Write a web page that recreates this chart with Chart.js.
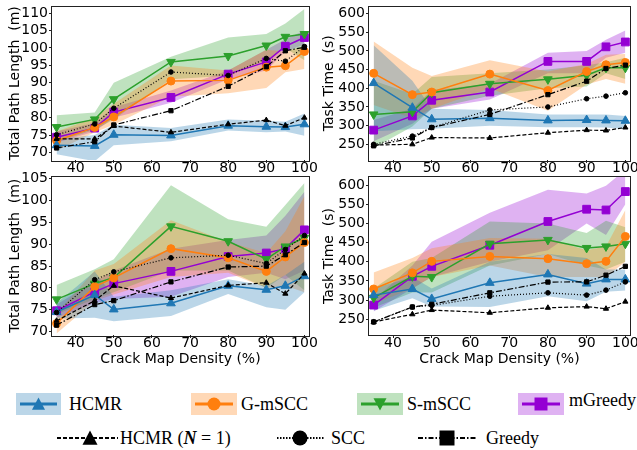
<!DOCTYPE html>
<html><head><meta charset="utf-8">
<script src="https://cdn.jsdelivr.net/npm/chart.js@4.4.1/dist/chart.umd.min.js"></script>
<style>
html,body{margin:0;padding:0;background:#fff;}
#wrap{position:relative;width:637px;height:450px;overflow:hidden;background:#fff;}
#wrap canvas{position:absolute;}
.lt{position:absolute;font-family:"Liberation Serif","Times New Roman",serif;font-size:18px;line-height:18px;color:#000;white-space:nowrap;}
</style></head><body>
<div id="wrap">
 <canvas id="c1" width="318" height="178" style="left:0;top:0;width:318px;height:178px"></canvas>
 <canvas id="c2" width="319" height="178" style="left:318px;top:0;width:319px;height:178px"></canvas>
 <canvas id="c3" width="318" height="200" style="left:0;top:170px;width:318px;height:200px"></canvas>
 <canvas id="c4" width="319" height="200" style="left:318px;top:170px;width:319px;height:200px"></canvas>
</div>
<script>
// ---------- data ----------
const densities = [35, 45, 50, 65, 80, 90, 95, 100];
const xTicks = [40, 50, 60, 70, 80, 90, 100];
const lengthTicksTop = [70, 75, 80, 85, 90, 95, 100, 105, 110];
const lengthTicksBottom = [70, 75, 80, 85, 90, 95, 100, 105];
const timeTicks = [250, 300, 350, 400, 450, 500, 550, 600];

// Panel 1: total path length (top)
const hcmr1 = [72.1, 71.9, 75.1, 74.9, 77.7, 77.4, 77.3, 78.1];
const hcmr1Lo = [69.5, 67.5, 72.1, 73.2, 76.3, 75.8, 76.0, 74.8];
const hcmr1Hi = [73.8, 75.0, 78.0, 77.0, 79.5, 79.1, 78.8, 81.2];
const gmscc1 = [73.4, 77.2, 80.2, 90.5, 90.7, 94.5, 94.9, 99.0];
const gmscc1Lo = [70.5, 75.8, 78.0, 86.0, 87.0, 88.5, 93.0, 94.0];
const gmscc1Hi = [76.0, 80.0, 84.0, 95.0, 93.5, 99.5, 99.0, 100.5];
const smscc1 = [77.3, 79.5, 85.3, 96.0, 97.7, 100.7, 103.2, 104.0];
const smscc1Lo = [73.0, 76.5, 79.5, 91.0, 92.0, 96.5, 100.0, 96.5];
const smscc1Hi = [80.7, 81.5, 90.0, 97.5, 103.0, 104.0, 107.0, 111.2];
const mgreedy1 = [74.4, 77.0, 81.6, 85.8, 92.5, 96.0, 100.5, 103.0];
const mgreedy1Lo = [72.8, 76.0, 80.0, 84.3, 91.0, 93.5, 99.0, 101.0];
const mgreedy1Hi = [76.0, 78.5, 83.0, 87.8, 93.5, 99.5, 102.5, 105.0];
const hcmrN1_1 = [73.9, 73.9, 77.6, 75.8, 78.1, 79.3, 77.7, 80.0];
const scc1 = [75.1, 78.2, 82.7, 93.1, 92.1, 97.0, 96.2, 100.4];
const greedy1 = [71.3, 73.1, 77.9, 82.0, 89.0, 94.6, 99.2, 100.2];

// Panel 2: task time (top)
const hcmr2 = [414, 348, 317, 320, 314, 315, 314, 313];
const hcmr2Lo = [285, 290, 292, 300, 296, 296, 295, 290];
const hcmr2Hi = [515, 420, 345, 342, 330, 330, 330, 326];
const gmscc2 = [440, 383, 390, 438, 394, 445, 463, 469];
const gmscc2Lo = [355, 320, 345, 400, 340, 410, 425, 412];
const gmscc2Hi = [525, 455, 433, 475, 445, 465, 490, 492];
const smscc2 = [330, 337, 388, 412, 424, 435, 455, 455];
const smscc2Lo = [240, 298, 345, 380, 400, 405, 440, 425];
const smscc2Hi = [420, 385, 430, 440, 450, 462, 470, 482];
const mgreedy2 = [288, 326, 368, 390, 472, 472, 511, 524];
const mgreedy2Lo = [258, 305, 345, 370, 440, 440, 482, 495];
const mgreedy2Hi = [315, 345, 395, 412, 495, 500, 530, 555];
const hcmrN1_2 = [248, 250, 268, 267, 281, 288, 287, 295];
const scc2 = [250, 272, 295, 342, 350, 372, 379, 388];
const greedy2 = [246, 267, 295, 330, 383, 419, 453, 462];

// Panel 3: total path length (bottom)
const hcmr3 = [74.5, 78.4, 75.1, 76.5, 80.5, 79.6, 80.5, 82.7];
const hcmr3Lo = [73.0, 73.2, 72.4, 73.6, 78.6, 75.6, 75.0, 79.0];
const hcmr3Hi = [76.5, 83.8, 78.0, 79.5, 82.0, 80.5, 83.0, 86.0];
const gmscc3 = [71.9, 80.3, 82.3, 89.0, 86.9, 83.8, 87.1, 90.4];
const gmscc3Lo = [69.6, 77.0, 78.5, 82.5, 83.5, 80.0, 80.5, 79.0];
const gmscc3Hi = [74.2, 84.0, 85.5, 95.5, 90.5, 88.0, 93.0, 101.0];
const smscc3 = [77.4, 81.0, 82.4, 94.1, 90.7, 86.6, 89.5, 91.5];
const smscc3Lo = [74.0, 77.5, 79.0, 84.0, 84.0, 80.0, 83.0, 79.5];
const smscc3Hi = [80.7, 84.3, 86.6, 103.5, 95.7, 94.0, 99.0, 104.0];
const mgreedy3 = [74.8, 79.1, 81.0, 83.8, 87.2, 88.0, 89.0, 93.3];
const mgreedy3Lo = [73.2, 76.5, 77.5, 78.0, 82.5, 83.5, 82.0, 84.0];
const mgreedy3Hi = [76.2, 81.5, 84.0, 89.0, 91.0, 92.0, 96.5, 102.0];
const hcmrN1_3 = [72.5, 77.1, 80.5, 77.7, 80.6, 81.2, 78.7, 83.3];
const scc3 = [74.4, 81.9, 83.7, 86.9, 87.5, 85.6, 88.8, 92.0];
const greedy3 = [71.5, 76.2, 77.1, 81.4, 84.8, 85.0, 87.6, 90.4];

// Panel 4: task time (bottom)
const hcmr4 = [313, 329, 303, 345, 367, 343, 354, 354];
const hcmr4Lo = [272, 305, 283, 282, 310, 297, 322, 325];
const hcmr4Hi = [330, 360, 330, 400, 420, 410, 380, 380];
const gmscc4 = [329, 371, 401, 414, 408, 395, 401, 466];
const gmscc4Lo = [290, 330, 360, 390, 360, 360, 360, 400];
const gmscc4Hi = [372, 410, 435, 462, 460, 430, 440, 535];
const smscc4 = [306, 362, 360, 447, 457, 436, 440, 447];
const smscc4Lo = [280, 320, 320, 390, 420, 390, 380, 400];
const smscc4Hi = [330, 400, 410, 505, 500, 475, 507, 490];
const mgreedy4 = [287, 362, 388, 443, 505, 537, 535, 583];
const mgreedy4Lo = [270, 330, 360, 400, 430, 500, 470, 550];
const mgreedy4Hi = [300, 390, 452, 528, 588, 578, 598, 640];
const hcmrN1_4 = [243, 263, 274, 267, 280, 283, 277.5, 296];
const scc4 = [243, 282, 286, 310, 319, 313, 326, 347.5];
const greedy4 = [243, 282, 289, 319, 347, 347.5, 365, 388];

// ---------- styles ----------
const COL = {hcmr:'#1f77b4', gmscc:'#ff7f0e', smscc:'#2ca02c', mgreedy:'#9400d3'};
const BAND = {hcmr:'rgba(31,119,180,0.3)', gmscc:'rgba(255,127,14,0.3)', smscc:'rgba(44,160,44,0.3)', mgreedy:'rgba(148,0,211,0.3)'};
const TICK_FONT = {family:'DejaVu Sans', size:14};

function pts(vals){ return densities.map((x,i)=>({x:x, y:vals[i]})); }
function band(lo, hi, col){
  return [
    {data:pts(lo), borderWidth:0, borderColor:'rgba(0,0,0,0)', pointRadius:0, fill:false, order:10, tension:0},
    {data:pts(hi), borderWidth:0, borderColor:'rgba(0,0,0,0)', pointRadius:0, fill:'-1', backgroundColor:col, order:10, tension:0}
  ];
}
function colLine(vals, col, style, r, rot){
  return {data:pts(vals), borderColor:col, backgroundColor:col, borderWidth:1.5, fill:false, tension:0,
    pointStyle:style, pointRadius:r, pointRotation:rot||0, pointBackgroundColor:col, pointBorderColor:col, pointBorderWidth:1, order:2};
}
function blkLine(vals, style, r, dash){
  return {data:pts(vals), borderColor:'#000', backgroundColor:'#000', borderWidth:1.2, borderDash:dash, fill:false, tension:0,
    pointStyle:style, pointRadius:r, pointBackgroundColor:'#000', pointBorderColor:'#000', pointBorderWidth:1, order:1};
}
function datasetsFor(s){
  return [
    ...band(s.hLo, s.hHi, BAND.hcmr),
    ...band(s.gLo, s.gHi, BAND.gmscc),
    ...band(s.sLo, s.sHi, BAND.smscc),
    ...band(s.mLo, s.mHi, BAND.mgreedy),
    colLine(s.h, COL.hcmr, 'triangle', 5),
    colLine(s.g, COL.gmscc, 'circle', 4),
    colLine(s.s, COL.smscc, 'triangle', 5, 180),
    colLine(s.m, COL.mgreedy, 'rect', 5.5),
    blkLine(s.n1, 'triangle', 3, [4,2]),
    blkLine(s.scc, 'circle', 2.3, [1,2]),
    blkLine(s.gr, 'rect', 3, [6,2,1.5,2])
  ];
}

const framePlugin = {
  id:'frame',
  afterDatasetsDraw(chart){
    const {ctx, chartArea:a} = chart;
    ctx.save();
    ctx.strokeStyle = '#222'; ctx.lineWidth = 1;
    ctx.strokeRect(Math.round(a.left)-0.5, Math.round(a.top)-0.5, Math.round(a.right-a.left)+1, Math.round(a.bottom-a.top)+1);
    ctx.restore();
  }
};

function makeChart(id, p){
  new Chart(document.getElementById(id), {
    type:'line',
    data:{datasets: datasetsFor(p.series)},
    plugins:[framePlugin],
    options:{
      responsive:false, animation:false, devicePixelRatio:1, events:[],
      layout:{padding:p.pad},
      plugins:{legend:{display:false}, tooltip:{enabled:false}},
      scales:{
        x:{type:'linear', min:33.8, max:101.2,
          afterBuildTicks(s){ s.ticks = xTicks.map(v=>({value:v})); },
          afterFit(s){ s.height = p.xh; s.paddingLeft = 0; s.paddingRight = 0; },
          ticks:{font:TICK_FONT, color:'#000', padding:-3, maxRotation:0, autoSkip:false},
          grid:{drawOnChartArea:false, drawTicks:true, tickLength:3, color:'#222'},
          border:{display:false},
          title:{display:!!p.xTitle, text:p.xTitle||'', font:TICK_FONT, color:'#000', padding:{top:0,bottom:2.6}}
        },
        y:{type:'linear', min:p.ymin, max:p.ymax,
          afterBuildTicks(s){ s.ticks = p.yTicks.map(v=>({value:v})); },
          afterFit(s){ s.width = p.yw; s.paddingTop = 0; s.paddingBottom = 0; },
          ticks:{font:TICK_FONT, color:'#000', padding:1, autoSkip:false},
          grid:{drawOnChartArea:false, drawTicks:true, tickLength:3, color:'#222'},
          border:{display:false},
          title:{display:true, text:p.yTitle, font:TICK_FONT, color:'#000', padding:{top:p.ytp, bottom:0}}
        }
      }
    }
  });
}

makeChart('c1', {series:{h:hcmr1,hLo:hcmr1Lo,hHi:hcmr1Hi,g:gmscc1,gLo:gmscc1Lo,gHi:gmscc1Hi,s:smscc1,sLo:smscc1Lo,sHi:smscc1Hi,m:mgreedy1,mLo:mgreedy1Lo,mHi:mgreedy1Hi,n1:hcmrN1_1,scc:scc1,gr:greedy1},
  pad:{left:0,right:9,top:3,bottom:0}, yw:52, xh:18, ymin:67.85, ymax:111.9, yTicks:lengthTicksTop, yTitle:'Total Path Length  (m)', ytp:6.5});
makeChart('c2', {series:{h:hcmr2,hLo:hcmr2Lo,hHi:hcmr2Hi,g:gmscc2,gLo:gmscc2Lo,gHi:gmscc2Hi,s:smscc2,sLo:smscc2Lo,sHi:smscc2Hi,m:mgreedy2,mLo:mgreedy2Lo,mHi:mgreedy2Hi,n1:hcmrN1_2,scc:scc2,gr:greedy2},
  pad:{left:0,right:7,top:3,bottom:0}, yw:51, xh:18, ymin:208, ymax:619, yTicks:timeTicks, yTitle:'Task Time  (s)', ytp:3});
makeChart('c3', {series:{h:hcmr3,hLo:hcmr3Lo,hHi:hcmr3Hi,g:gmscc3,gLo:gmscc3Lo,gHi:gmscc3Hi,s:smscc3,sLo:smscc3Lo,sHi:smscc3Hi,m:mgreedy3,mLo:mgreedy3Lo,mHi:mgreedy3Hi,n1:hcmrN1_3,scc:scc3,gr:greedy3},
  pad:{left:0,right:9,top:6,bottom:0}, yw:52, xh:35, ymin:69.25, ymax:105.5, yTicks:lengthTicksBottom, yTitle:'Total Path Length  (m)', ytp:6.5, xTitle:'Crack Map Density (%)'});
makeChart('c4', {series:{h:hcmr4,hLo:hcmr4Lo,hHi:hcmr4Hi,g:gmscc4,gLo:gmscc4Lo,gHi:gmscc4Hi,s:smscc4,sLo:smscc4Lo,sHi:smscc4Hi,m:mgreedy4,mLo:mgreedy4Lo,mHi:mgreedy4Hi,n1:hcmrN1_4,scc:scc4,gr:greedy4},
  pad:{left:0,right:7,top:7,bottom:0}, yw:51, xh:35, ymin:209, ymax:621, yTicks:timeTicks, yTitle:'Task Time  (s)', ytp:3, xTitle:'Crack Map Density (%)'});

// ---------- legend ----------
const wrap = document.getElementById('wrap');
function marker(ctx, style, x, y, s, col){
  ctx.fillStyle = col; ctx.beginPath();
  if (style==='tri'){ ctx.moveTo(x, y-s*0.5); ctx.lineTo(x+s*0.5, y+s*0.45); ctx.lineTo(x-s*0.5, y+s*0.45); }
  else if (style==='itri'){ ctx.moveTo(x, y+s*0.5); ctx.lineTo(x+s*0.5, y-s*0.45); ctx.lineTo(x-s*0.5, y-s*0.45); }
  else if (style==='circ'){ ctx.arc(x, y, s/2, 0, Math.PI*2); }
  else { ctx.rect(x-s/2, y-s/2, s, s); }
  ctx.closePath(); ctx.fill();
}
function addIcon(x, y, w, h, draw){
  const c = document.createElement('canvas');
  c.width = w; c.height = h; c.style.left = x+'px'; c.style.top = y+'px';
  c.style.width = w+'px'; c.style.height = h+'px';
  wrap.appendChild(c); draw(c.getContext('2d'), w, h);
}
function addText(x, y, html){
  const d = document.createElement('div'); d.className='lt';
  d.style.left = x+'px'; d.style.top = y+'px'; d.innerHTML = html; wrap.appendChild(d);
}
const legendTop = [
  {x:16, w:45, key:'hcmr', m:'tri', label:'HCMR', tx:69, ty:395},
  {x:191, w:46, key:'gmscc', m:'circ', label:'G-mSCC', tx:241, ty:395},
  {x:357, w:46, key:'smscc', m:'itri', label:'S-mSCC', tx:407, ty:395},
  {x:518, w:46, key:'mgreedy', m:'sq', label:'mGreedy', tx:569, ty:391}
];
legendTop.forEach(e=>{
  addIcon(e.x, 393, e.w, 22, (ctx,w,h)=>{
    ctx.fillStyle = BAND[e.key]; ctx.fillRect(0,0,w,h);
    ctx.strokeStyle = COL[e.key]; ctx.lineWidth = 3;
    ctx.beginPath(); ctx.moveTo(4, h/2); ctx.lineTo(w-4, h/2); ctx.stroke();
    marker(ctx, e.m, w/2, h/2, 13, COL[e.key]);
  });
  addText(e.tx, e.ty, e.label);
});
const legendBottom = [
  {x:57, w:61, m:'tri', mx:33, dash:[4,2], label:'HCMR (<b><i>N</i></b> = 1)', tx:120},
  {x:277, w:48, m:'circ', mx:23, dash:[1.5,1.5], label:'SCC', tx:331},
  {x:418, w:58, m:'sq', mx:29, dash:[5,2,1.5,2], label:'Greedy', tx:486}
];
legendBottom.forEach(e=>{
  addIcon(e.x, 428, e.w, 20, (ctx,w,h)=>{
    ctx.strokeStyle = '#000'; ctx.lineWidth = 2; ctx.setLineDash(e.dash);
    ctx.beginPath(); ctx.moveTo(0, h/2); ctx.lineTo(w, h/2); ctx.stroke();
    ctx.setLineDash([]);
    marker(ctx, e.m, e.mx, h/2, 15, '#000');
  });
  addText(e.tx, 429, e.label);
});
</script>
</body></html>
